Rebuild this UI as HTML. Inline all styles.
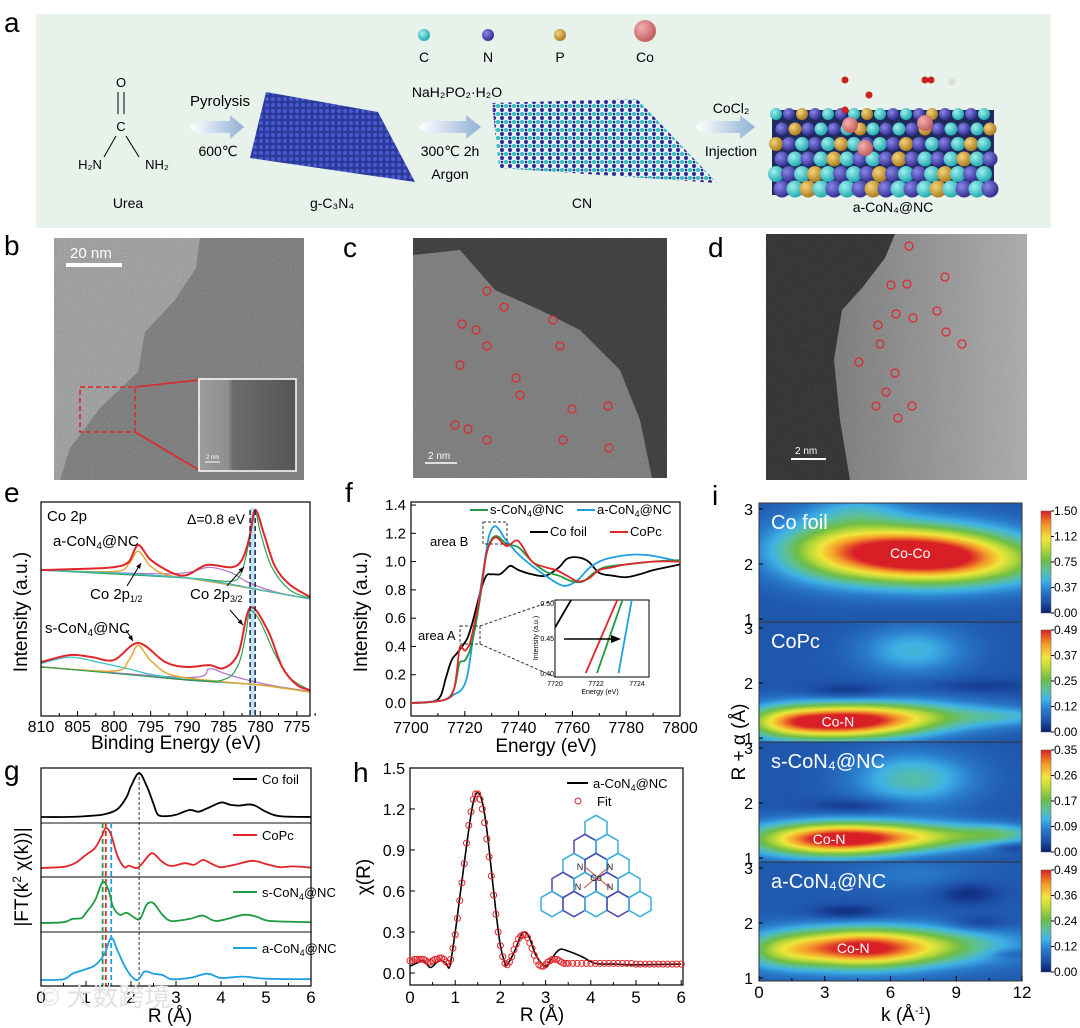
<!DOCTYPE html>
<html><head><meta charset="utf-8"><style>
html,body{margin:0;padding:0;background:#fff;}
#wrap{position:relative;width:1080px;height:1028px;overflow:hidden;font-family:"Liberation Sans","Noto Sans CJK SC",sans-serif;}
svg{position:absolute;left:0;top:0;}
canvas{position:absolute;}
text{font-family:"Liberation Sans","DejaVu Sans","Noto Sans CJK SC",sans-serif;}
</style></head><body>
<div id="wrap">
<svg id="main" width="1080" height="1028" viewBox="0 0 1080 1028">
<defs>
<filter id="grain" x="0" y="0" width="100%" height="100%"><feTurbulence type="fractalNoise" baseFrequency="0.85" numOctaves="2" seed="3"/><feColorMatrix type="matrix" values="0.33 0.33 0.33 0 0 0.33 0.33 0.33 0 0 0.33 0.33 0.33 0 0 0 0 0 0 1"/></filter>
<linearGradient id="arrowGrad" x1="0" x2="1"><stop offset="0" stop-color="#ffffff"/><stop offset="1" stop-color="#8fb0d6"/></linearGradient>
<radialGradient id="gC" cx="0.35" cy="0.35" r="0.7"><stop offset="0" stop-color="#9ff0ee"/><stop offset="1" stop-color="#1ba6ac"/></radialGradient>
<radialGradient id="gN" cx="0.35" cy="0.35" r="0.7"><stop offset="0" stop-color="#8a86e8"/><stop offset="1" stop-color="#2c2a8c"/></radialGradient>
<radialGradient id="gP" cx="0.35" cy="0.35" r="0.7"><stop offset="0" stop-color="#f5d37a"/><stop offset="1" stop-color="#a8781a"/></radialGradient>
<radialGradient id="gCo" cx="0.35" cy="0.35" r="0.7"><stop offset="0" stop-color="#f2b0b0"/><stop offset="1" stop-color="#c05a5a"/></radialGradient>
<pattern id="patG" width="6" height="6" patternUnits="userSpaceOnUse"><rect width="6" height="6" fill="#2a3a9a"/><circle cx="3" cy="3" r="2" fill="#4a5ad0"/></pattern>
<pattern id="patCN" width="8" height="8" patternUnits="userSpaceOnUse"><rect width="8" height="8" fill="#e6f2ea"/><circle cx="2" cy="2" r="2" fill="#2bbfc0"/><circle cx="6" cy="6" r="2" fill="#2c2a9c"/><circle cx="6" cy="2" r="1.4" fill="#3a3aa8"/></pattern>
<linearGradient id="dGrad" x1="0" x2="1"><stop offset="0" stop-color="#555"/><stop offset="1" stop-color="#a8a8a8"/></linearGradient>
<linearGradient id="insGrad" x1="0" x2="1"><stop offset="0" stop-color="#9c9c9c"/><stop offset="0.3" stop-color="#8f8f8f"/><stop offset="0.35" stop-color="#6c6c6c"/><stop offset="1" stop-color="#555"/></linearGradient>
</defs>
<rect x="0" y="0" width="1080" height="1028" fill="#fff"/>

<g>
<rect x="36" y="14" width="1015" height="214" fill="#e6f2ea"/>
<text x="4" y="32" font-size="28">a</text>
<g>
<circle cx="424" cy="35" r="6" fill="url(#gC)"/>
<circle cx="488" cy="35" r="6" fill="url(#gN)"/>
<circle cx="560" cy="35" r="6" fill="url(#gP)"/>
<circle cx="645" cy="31" r="11" fill="url(#gCo)"/>
<text x="424" y="62" font-size="14" text-anchor="middle">C</text>
<text x="488" y="62" font-size="14" text-anchor="middle">N</text>
<text x="560" y="62" font-size="14" text-anchor="middle">P</text>
<text x="645" y="62" font-size="14" text-anchor="middle">Co</text>
</g>
<g font-size="13">
<text x="121" y="87" text-anchor="middle">O</text>
<line x1="118" y1="92" x2="118" y2="114" stroke="#000"/>
<line x1="124" y1="92" x2="124" y2="114" stroke="#000"/>
<text x="121" y="131" text-anchor="middle">C</text>
<line x1="116" y1="136" x2="104" y2="157" stroke="#000"/>
<line x1="126" y1="136" x2="139" y2="157" stroke="#000"/>
<text x="90" y="169" text-anchor="middle">H₂N</text>
<text x="157" y="169" text-anchor="middle">NH₂</text>
<text x="128" y="208" text-anchor="middle" font-size="14">Urea</text>
</g>
<path d="M190,127 Q195,119 212,121 L230,121 L230,115 L244,127 L230,139 L230,133 L212,133 Q195,135 190,127Z" fill="url(#arrowGrad)"/>
<text x="220" y="106" font-size="15" text-anchor="middle">Pyrolysis</text>
<text x="218" y="156" font-size="14" text-anchor="middle">600℃</text>
<polygon points="266,92 378,112 415,182 250,158" fill="url(#patG)"/>
<text x="332" y="208" font-size="14" text-anchor="middle">g-C₃N₄</text>
<path d="M419,127 Q424,119 442,121 L466,121 L466,115 L481,127 L466,139 L466,133 L442,133 Q424,135 419,127Z" fill="url(#arrowGrad)"/>
<text x="457" y="97" font-size="14" text-anchor="middle">NaH₂PO₂·H₂O</text>
<text x="450" y="156" font-size="14" text-anchor="middle">300℃ 2h</text>
<text x="450" y="179" font-size="14" text-anchor="middle">Argon</text>
<polygon points="492,103 637,99 717,183 499,168" fill="url(#patCN)"/>
<text x="582" y="208" font-size="14" text-anchor="middle">CN</text>
<path d="M696,127 Q701,119 718,121 L740,121 L740,115 L755,127 L740,139 L740,133 L718,133 Q701,135 696,127Z" fill="url(#arrowGrad)"/>
<text x="731" y="113" font-size="14" text-anchor="middle">CoCl₂</text>
<text x="731" y="156" font-size="14" text-anchor="middle">Injection</text>
<g id="slab"></g>
<text x="893" y="212" font-size="14" text-anchor="middle">a-CoN₄@NC</text>
</g>

<g>
<text x="4" y="255" font-size="28">b</text>
<rect x="54" y="238" width="250" height="242" fill="#929292"/>
<polygon points="200,238 304,238 304,480 60,480 70,448 100,408 138,372 145,332 175,300 196,268" fill="#616161"/>
<rect x="54" y="238" width="250" height="242" filter="url(#grain)" opacity="0.35"/>
<rect x="66" y="263" width="56" height="4" fill="#fff"/>
<text x="70" y="258" font-size="15" fill="#fff">20 nm</text>
<rect x="80" y="387" width="55" height="45" fill="none" stroke="#e0262b" stroke-width="1.6" stroke-dasharray="5 3"/>
<line x1="135" y1="387" x2="199" y2="380" stroke="#e0262b" stroke-width="1.6"/>
<line x1="135" y1="432" x2="199" y2="470" stroke="#e0262b" stroke-width="1.6"/>
<rect x="199" y="379" width="97" height="92" fill="url(#insGrad)" stroke="#fff" stroke-width="1.5"/>
<line x1="205" y1="462" x2="220" y2="462" stroke="#fff"/>
<text x="206" y="459" font-size="6" fill="#fff">2 nm</text>
</g>

<g>
<text x="343" y="257" font-size="28">c</text>
<rect x="413" y="238" width="254" height="240" fill="#1a1a1a"/>
<polygon points="413,255 460,250 495,290 540,310 580,330 620,370 640,420 652,478 413,478" fill="#6c6c6c"/>
<rect x="413" y="238" width="254" height="240" filter="url(#grain)" opacity="0.25"/>
<g id="circlesC"></g>
<line x1="425" y1="463" x2="457" y2="463" stroke="#fff" stroke-width="1.5"/>
<text x="428" y="459" font-size="10" fill="#fff">2 nm</text>
</g>

<g>
<text x="708" y="257" font-size="28">d</text>
<rect x="766" y="234" width="261" height="246" fill="url(#dGrad)"/>
<polygon points="766,234 895,234 885,258 862,288 842,310 834,360 840,420 850,480 766,480" fill="#0c0c0c"/>
<rect x="766" y="234" width="261" height="246" filter="url(#grain)" opacity="0.25"/>
<g id="circlesD"></g>
<line x1="791" y1="459" x2="826" y2="459" stroke="#fff" stroke-width="2"/>
<text x="795" y="454" font-size="10" fill="#fff">2 nm</text>
</g>

<g id="chartE"></g>
<g id="chartF"></g>
<g id="chartG"></g>
<g id="chartH"></g>
<text x="40" y="1006" font-size="26" fill="#e2e2e2">© 大数跨境</text>
</svg>
<canvas id="cv0" width="263" height="119" style="left:759px;top:503px"></canvas>
<canvas id="cv1" width="263" height="120" style="left:759px;top:622px"></canvas>
<canvas id="cv2" width="263" height="120" style="left:759px;top:742px"></canvas>
<canvas id="cv3" width="263" height="119" style="left:759px;top:862px"></canvas>
<svg id="over" width="1080" height="1028" viewBox="0 0 1080 1028" style="pointer-events:none">
<defs><linearGradient id="cbGrad" x1="0" y1="1" x2="0" y2="0">
<stop offset="0" stop-color="#0a1f6e"/><stop offset="0.1" stop-color="#1d4fa6"/><stop offset="0.22" stop-color="#2a7ccb"/><stop offset="0.32" stop-color="#3fb2e6"/><stop offset="0.42" stop-color="#5cc09a"/><stop offset="0.52" stop-color="#6ebd45"/><stop offset="0.63" stop-color="#b8d83a"/><stop offset="0.73" stop-color="#f1e63a"/><stop offset="0.86" stop-color="#f49a2a"/><stop offset="1" stop-color="#d91f26"/></linearGradient></defs>
<g id="chartI"></g>
</svg>
</div>
<script>
const eTicks=[810,805,800,795,790,785,780,775];
const eTopRed=[[810,68.2],[804,68.8],[800,69.6],[798,72],[796.7,79.9],[795,73],[792,66.8],[790,65.9],[787.3,70.6],[784,69.5],[782.5,73],[781.5,83.2],[780.7,96.3],[779.5,85],[778,70],[776,61.5],[773.2,55.6]];
const eTopBase=[[810,68.2],[800,66.8],[790,64.5],[785,62.1],[780,58.9],[773.2,54.7]];
const eTopOrange=[[810,68.2],[800,67.5],[798,71],[796.7,77],[795,70],[793,66],[790,64.5],[780,58.9],[773.2,54.7]];
const eTopGreen=[[810,68.2],[790,64.5],[784,63],[782.5,68],[781.5,82],[780.7,95],[780,86],[778.5,70],[776,59],[773.2,55]];
const eTopPurple=[[810,68.2],[795,66.5],[790,67],[787,69.5],[784,67],[782,63],[779,59],[776,56.5],[773.2,54.7]];
const eBotRed=[[810,25.2],[806,28.5],[803,27.5],[800,26.2],[796.7,34.1],[793,25.2],[790,22.9],[787,23.8],[785,22.4],[783,29.4],[781.4,50.5],[779,40.2],[777,22.9],[775,14.5],[773.2,12.1]];
const eBotBase=[[810,22.9],[800,20.1],[790,16.8],[780,14.5],[773.2,11.2]];
const eBotOrange=[[810,23],[800,21],[798,26],[796.7,33],[795,26],[792,19],[785,16],[780,14.5],[773.2,11.2]];
const eBotCyan=[[810,24.5],[806,27.5],[802,25],[798,22],[795,19.5],[790,17],[780,14.5],[773.2,11.2]];
const eBotGreen=[[810,23],[790,17],[785,17],[783,24],[782,38],[781.4,49],[780,44],[778,29],[776,18],[773.2,12]];
const eBotPurple=[[810,23],[790,18],[787,22],[785,20],[782,17],[778,14],[773.2,11.5]];
const eDashed=[781.4,780.7];

const fXTicks=[7700,7720,7740,7760,7780,7800];
const fYTicks=[0,0.2,0.4,0.6,0.8,1.0,1.2,1.4];
const fCoFoil=[[7700,0],[7708,0.01],[7711,0.05],[7713,0.18],[7715,0.3],[7717,0.35],[7719,0.4],[7721,0.46],[7723,0.58],[7726,0.8],[7728,0.9],[7730,0.91],[7733,0.91],[7735,0.94],[7737,0.97],[7740,0.94],[7745,0.91],[7750,0.9],[7755,0.96],[7758,1.02],[7762,1.03],[7766,1.0],[7770,0.92],[7775,0.9],[7780,0.89],[7785,0.91],[7790,0.94],[7795,0.96],[7800,0.98]];
const fCoPc=[[7700,0],[7712,0.02],[7716,0.1],[7718,0.38],[7719,0.39],[7720,0.37],[7721,0.39],[7722,0.43],[7724,0.6],[7726,0.8],[7728,1.05],[7730,1.15],[7732,1.17],[7734,1.13],[7736,1.11],[7739,1.15],[7741,1.12],[7745,1.0],[7750,0.96],[7754,0.94],[7758,0.9],[7762,0.86],[7766,0.88],[7770,0.94],[7775,0.96],[7780,0.98],[7790,1.0],[7800,1.0]];
const fSCoN4=[[7700,0],[7712,0.02],[7716,0.1],[7718,0.28],[7720,0.3],[7722,0.38],[7724,0.55],[7726,0.78],[7728,1.05],[7730,1.16],[7732,1.18],[7734,1.15],[7736,1.12],[7740,1.1],[7745,1.0],[7750,0.93],[7755,0.9],[7760,0.86],[7764,0.86],[7768,0.92],[7772,0.96],[7780,0.98],[7790,1.0],[7800,1.01]];
const fACoN4=[[7700,0],[7712,0.02],[7716,0.06],[7719,0.1],[7721,0.2],[7723,0.45],[7725,0.7],[7727,0.95],[7729,1.18],[7731,1.25],[7733,1.22],[7735,1.16],[7740,1.05],[7745,0.97],[7750,0.9],[7755,0.84],[7758,0.83],[7762,0.87],[7766,0.95],[7770,1.0],[7775,1.03],[7783,1.05],[7790,1.04],[7800,1.0]];
const fInsetXTicks=[7720,7722,7724];
const fInsetYTicks=[0.40,0.45,0.50];
const fInsetBlack=[[7720,0.465],[7720.8,0.505]];
const fInsetRed=[[7721.5,0.4],[7723.05,0.505]];
const fInsetGreen=[[7722.05,0.4],[7723.3,0.505]];
const fInsetBlue=[[7723.1,0.4],[7723.75,0.505]];

const gTicks=[0,1,2,3,4,5,6];
const gCoFoil=[[0,0],[0.5,0.0],[1.0,0.02],[1.4,0.06],[1.7,0.18],[1.9,0.45],[2.0,0.7],[2.18,1.0],[2.35,0.7],[2.5,0.3],[2.6,0.05],[2.8,0.02],[3.0,0.05],[3.3,0.16],[3.5,0.12],[3.7,0.2],[4.0,0.33],[4.2,0.28],[4.4,0.26],[4.7,0.28],[5.0,0.12],[5.3,0.02],[6,0]];
const gCoPc=[[0,0],[0.4,0.02],[0.6,0.05],[0.8,0.15],[1.0,0.33],[1.2,0.5],[1.35,0.8],[1.44,1.0],[1.55,0.85],[1.7,0.3],[1.85,0.02],[1.95,0.06],[2.1,0],[2.2,0.05],[2.4,0.32],[2.5,0.36],[2.7,0.15],[2.9,0.05],[3.2,0.12],[3.4,0.08],[3.6,0.2],[3.8,0.1],[4.0,0.02],[4.3,0.08],[4.7,0.18],[5.0,0.1],[5.3,0.02],[5.6,0.04],[6,0.01]];
const gSCoN4=[[0,0],[0.5,0.02],[0.7,0.1],[0.9,0.12],[1.0,0.25],[1.2,0.55],[1.37,1.0],[1.5,0.8],[1.6,0.4],[1.75,0.2],[1.9,0.25],[2.05,0.15],[2.2,0.1],[2.35,0.45],[2.5,0.48],[2.7,0.2],[2.9,0.05],[3.3,0.1],[3.6,0.18],[3.9,0.05],[4.5,0.2],[4.8,0.15],[5.1,0.05],[6,0.02]];
const gACoN4=[[0,0],[0.5,0.02],[0.7,0.15],[1.0,0.26],[1.2,0.35],[1.4,0.6],[1.56,1.0],[1.7,0.7],[1.85,0.35],[2.0,0.1],[2.15,0.0],[2.3,0.2],[2.5,0.15],[2.7,0.12],[2.9,0.02],[3.3,0.05],[3.7,0.15],[4.0,0.05],[4.5,0.08],[5.0,0.03],[6,0.02]];
const gPeakLines=[1.37,1.44,1.56];
const gFoilLine=[2.18];

const hXTicks=[0,1,2,3,4,5,6];
const hYTicks=[0,0.3,0.6,0.9,1.2,1.5];
const hData=[[0,0.05],[0.2,0.08],[0.3,0.09],[0.45,0.04],[0.6,0.08],[0.7,0.09],[0.8,0.07],[0.88,0.05],[1.0,0.3],[1.1,0.55],[1.2,0.8],[1.3,1.05],[1.4,1.25],[1.5,1.32],[1.6,1.25],[1.7,1.05],[1.8,0.75],[1.9,0.45],[2.0,0.2],[2.1,0.07],[2.15,0.06],[2.3,0.15],[2.45,0.27],[2.55,0.3],[2.65,0.25],[2.8,0.12],[3.0,0.05],[3.1,0.09],[3.3,0.17],[3.5,0.16],[3.8,0.12],[4.1,0.07],[4.5,0.065],[5,0.06],[6,0.065]];
const hFitR=[0,0.05,0.1,0.15,0.2,0.25,0.3,0.35,0.4,0.45,0.5,0.55,0.6,0.65,0.7,0.75,0.8,0.85,0.9,0.95,1.0,1.05,1.1,1.15,1.2,1.25,1.3,1.35,1.4,1.45,1.5,1.55,1.6,1.65,1.7,1.75,1.8,1.85,1.9,1.95,2.0,2.05,2.1,2.15,2.2,2.25,2.3,2.35,2.4,2.45,2.5,2.55,2.6,2.65,2.7,2.75,2.8,2.85,2.9,2.95,3.0,3.05,3.1,3.15,3.2,3.25,3.3,3.35,3.4,3.45,3.5,3.6,3.7,3.8,3.9,4.0,4.1,4.2,4.3,4.4,4.5,4.6,4.7,4.8,4.9,5.0,5.1,5.2,5.3,5.4,5.5,5.6,5.7,5.8,5.9,6.0];
const hFitV=[0.09,0.09,0.1,0.1,0.1,0.1,0.1,0.09,0.08,0.08,0.09,0.1,0.1,0.11,0.11,0.1,0.08,0.07,0.1,0.18,0.28,0.4,0.53,0.66,0.8,0.95,1.08,1.18,1.27,1.31,1.31,1.27,1.2,1.1,0.98,0.85,0.71,0.57,0.43,0.3,0.2,0.12,0.07,0.06,0.08,0.12,0.17,0.21,0.25,0.27,0.28,0.28,0.26,0.22,0.18,0.13,0.09,0.06,0.05,0.05,0.06,0.08,0.09,0.1,0.1,0.1,0.09,0.08,0.07,0.07,0.07,0.07,0.07,0.07,0.07,0.07,0.07,0.07,0.07,0.07,0.07,0.07,0.07,0.07,0.07,0.065,0.065,0.065,0.065,0.065,0.065,0.065,0.065,0.065,0.065,0.065];

const iXTicks=[0,3,6,9,12];
const iYTicks=[1,2,3];
const iNames=['Co foil','CoPc','s-CoN₄@NC','a-CoN₄@NC'];
const iBondLabels=['Co-Co','Co-N','Co-N','Co-N'];
const iBondK=[6.9,3.6,3.2,4.3];
const iBondR=[2.2,1.3,1.35,1.55];
const iBase=[0.12,0.12,0.12,0.13];
const blobsFoil=[[6.8,2.2,2.9,0.36,0.88],[10,2.05,2.8,0.32,0.35],[3.2,2.3,2.0,0.4,0.28],[4.5,3.0,1.5,0.22,0.14]];
const blobsCoPc=[[3.5,1.3,2.5,0.22,0.88],[7.2,1.4,2.6,0.2,0.32],[1.2,1.3,1.2,0.2,0.2],[7,2.6,1.7,0.3,0.22],[4,1.85,1.3,0.1,-0.1],[10,1.95,2,0.1,-0.06],[11.5,1.4,1.5,0.12,0.15]];
const blobsS=[[3.3,1.35,2.5,0.21,0.88],[7.5,1.4,2.6,0.18,0.38],[11,1.45,1.3,0.12,0.2],[7,2.45,1.9,0.33,0.28],[4.5,1.95,1.5,0.1,-0.1],[11.5,1.2,0.6,0.06,-0.1]];
const blobsA=[[4.5,1.55,2.6,0.25,0.88],[9,1.6,2.6,0.24,0.22],[1,1.5,1.2,0.22,0.22],[4,2.2,1.2,0.1,-0.12],[9.5,2.55,1,0.15,-0.1],[10,2.0,1,0.1,-0.1],[11.5,1.45,0.8,0.06,-0.08],[7,2.9,2,0.2,0.08]];
const cbFoil=['1.50','1.12','0.75','0.37','0.00'];
const cbCoPc=['0.49','0.37','0.25','0.12','0.00'];
const cbS=['0.35','0.26','0.17','0.09','0.00'];
const cbA=['0.49','0.36','0.24','0.12','0.00'];

const atomsC=[[487,291],[504,307],[462,324],[476,330],[487,346],[460,365],[516,378],[560,346],[455,425],[468,429],[487,440],[572,409],[608,406],[563,440],[609,448],[553,320],[520,395]];
const atomsD=[[909,246],[945,277],[891,285],[907,284],[896,314],[913,318],[937,311],[878,325],[946,332],[880,344],[962,344],[859,362],[895,373],[886,392],[876,406],[912,406],[898,418]];

const NS='http://www.w3.org/2000/svg';
function mk(tag,attrs,parent){const e=document.createElementNS(NS,tag);for(const k in attrs)e.setAttribute(k,attrs[k]);parent.appendChild(e);return e;}
function smooth(p){let d='M'+p[0][0].toFixed(1)+','+p[0][1].toFixed(1);for(let i=0;i<p.length-1;i++){const p0=p[i-1]||p[i],p1=p[i],p2=p[i+1],p3=p[i+2]||p2;const c1x=p1[0]+(p2[0]-p0[0])/6,c1y=p1[1]+(p2[1]-p0[1])/6,c2x=p2[0]-(p3[0]-p1[0])/6,c2y=p2[1]-(p3[1]-p1[1])/6;d+=' C'+c1x.toFixed(1)+','+c1y.toFixed(1)+' '+c2x.toFixed(1)+','+c2y.toFixed(1)+' '+p2[0].toFixed(1)+','+p2[1].toFixed(1);}return d;}
function txt(parent,x,y,s,size,anchor,fill){const t=mk('text',{x:x,y:y,'font-size':size,'text-anchor':anchor||'start',fill:fill||'#000'},parent);t.textContent=s;return t;}

(function(){const g=document.getElementById('slab');
mk('rect',{x:772,y:110,width:222,height:85,fill:'#1d2a5a'},g);
for(let r=0;r<6;r++){for(let c=0;c<17;c++){const x=776+c*13+(r%2)*6,y=114+r*15;const col=((c+r)%5===2)?'url(#gP)':((c+r)%2?'url(#gN)':'url(#gC)');
const a=mk('circle',{cx:x,cy:y,r:6+r*0.5,fill:col},g);

}}
const coPos=[[850,125],[925,123],[865,148]];
coPos.forEach(p=>{const a=mk('circle',{cx:p[0],cy:p[1],r:8,fill:'url(#gCo)'},g);

});
const mol=[[845,80,'#d02020'],[851,76,'#eee'],[925,80,'#d02020'],[931,80,'#d02020'],[952,82,'#ddd'],[869,95,'#d02020'],[858,103,'#eee'],[845,110,'#d02020']];
mol.forEach(p=>{const a=mk('circle',{cx:p[0],cy:p[1],r:3.5,fill:p[2]},g);

});})();

[['circlesC',atomsC],['circlesD',atomsD]].forEach(([id,arr])=>{const g=document.getElementById(id);arr.forEach(p=>{const c=mk('circle',{cx:p[0],cy:p[1],r:4,fill:'none',stroke:'#e0262b','stroke-width':1.2},g);

});});

(function(){const g=document.getElementById('chartE');
const L=41,R=310,T=502,B=716;
const x=v=>L+(810-v)*7.31, y=v=>B-v*2.14;
txt(g,4,502,'e',28);
const band=mk('rect',{x:x(eDashed[0]),y:T+6,width:x(eDashed[1])-x(eDashed[0]),height:B-T-8,fill:'#bfe3f5'},g);


const series=[[eTopBase,'#2a2a2a',1.2,'top-baseline'],[eTopPurple,'#b070c8',1.2,'top-satellite-fit'],[eTopOrange,'#e3a52a',1.4,'top-2p12-fit'],[eTopGreen,'#2ea055',1.2,'top-2p32-fit'],[eTopBase,'#3cc0c8',1.2,'top-background-fit'],[eTopRed,'#e0262b',2,'top-envelope'],
[eBotBase,'#2a2a2a',1.2,'bottom-baseline'],[eBotPurple,'#b070c8',1.2,'bottom-satellite-fit'],[eBotCyan,'#3cc0c8',1.3,'bottom-satellite2-fit'],[eBotOrange,'#e3a52a',1.4,'bottom-2p12-fit'],[eBotGreen,'#2ea055',1.2,'bottom-2p32-fit'],[eBotRed,'#e0262b',2,'bottom-envelope']];
series.forEach(s=>{const p=mk('path',{d:smooth(s[0].map(q=>[x(q[0]),y(q[1])])),fill:'none',stroke:s[1],'stroke-width':s[2]},g);

});
eDashed.forEach(v=>{const l=mk('line',{x1:x(v),x2:x(v),y1:T+8,y2:B,stroke:'#1a2a4a','stroke-width':1.5,'stroke-dasharray':'5 3'},g);

});
const box=mk('rect',{x:L,y:T,width:R-L,height:B-T,fill:'none',stroke:'#000','stroke-width':1.2},g);


eTicks.forEach(v=>{mk('line',{x1:x(v),x2:x(v),y1:B,y2:B-5,stroke:'#000'},g);mk('line',{x1:x(v-2.5),x2:x(v-2.5),y1:B,y2:B-3,stroke:'#000'},g);
const t=txt(g,x(v),B+16,String(v),16,'middle');
});
txt(g,176,B+33,'Binding Energy (eV)',19,'middle');
const yt=txt(g,0,0,'Intensity (a.u.)',19,'middle');yt.setAttribute('transform','translate(27,612) rotate(-90)');

txt(g,47,521,'Co 2p',15);
const d=txt(g,187,524,'Δ=0.8 eV',14);
const a1=txt(g,53,546,'',15);a1.innerHTML='a-CoN<tspan font-size="10" dy="3">4</tspan><tspan dy="-3">@NC</tspan>';
const a2=txt(g,45,633,'',15);a2.innerHTML='s-CoN<tspan font-size="10" dy="3">4</tspan><tspan dy="-3">@NC</tspan>';
const c1=txt(g,90,599,'',15);c1.innerHTML='Co 2p<tspan font-size="9" dy="3">1/2</tspan>';
const c2=txt(g,190,599,'',15);c2.innerHTML='Co 2p<tspan font-size="9" dy="3">3/2</tspan>';
const arrs=[[127,586,141,563],[227,586,244,567],[126,630,133,641],[230,610,243,625]];
arrs.forEach(a=>{const l=mk('line',{x1:a[0],y1:a[1],x2:a[2],y2:a[3],stroke:'#000','stroke-width':1},g);

const ang=Math.atan2(a[3]-a[1],a[2]-a[0]);const h=mk('polygon',{points:[a[2],a[3],a[2]-6*Math.cos(ang-0.4),a[3]-6*Math.sin(ang-0.4),a[2]-6*Math.cos(ang+0.4),a[3]-6*Math.sin(ang+0.4)].join(','),fill:'#000'},g);
});
})();

(function(){const g=document.getElementById('chartF');
const L=411,R=680,T=502,B=716;
const x=v=>L+(v-7700)*2.69,y=v=>703-v*141.4;
txt(g,345,502,'f',28);
const box=mk('rect',{x:L,y:T,width:R-L,height:B-T,fill:'none',stroke:'#000','stroke-width':1.2},g);

fXTicks.forEach(v=>{mk('line',{x1:x(v),x2:x(v),y1:B,y2:B-5,stroke:'#000'},g);if(v<7800)mk('line',{x1:x(v+10),x2:x(v+10),y1:B,y2:B-3,stroke:'#000'},g);
const t=txt(g,x(v),B+17,String(v),16,'middle');
});
fYTicks.forEach(v=>{mk('line',{x1:L,x2:L+5,y1:y(v),y2:y(v),stroke:'#000'},g);
const t=txt(g,L-5,y(v)+5,v.toFixed(1),15,'end');
});
txt(g,546,B+36,'Energy (eV)',19,'middle');
const yt=txt(g,0,0,'Intensity (a.u.)',19,'middle');yt.setAttribute('transform','translate(367,612) rotate(-90)');

const ser=[[fCoFoil,'#000','co-foil-line'],[fACoN4,'#1ea0e0','a-con4-line'],[fSCoN4,'#1e9a40','s-con4-line'],[fCoPc,'#e0262b','copc-line']];
ser.forEach(s=>{const p=mk('path',{d:smooth(s[0].map(q=>[x(q[0]),y(q[1])])),fill:'none',stroke:s[1],'stroke-width':1.8},g);

});
const bb=mk('rect',{x:483,y:522,width:24,height:22,fill:'none',stroke:'#333','stroke-dasharray':'3 2'},g);
const ba=mk('rect',{x:460,y:626,width:20,height:18,fill:'none',stroke:'#333','stroke-dasharray':'3 2'},g);
txt(g,430,546,'area B',13);
txt(g,418,640,'area A',13);
mk('line',{x1:480,y1:626,x2:555,y2:600,stroke:'#333','stroke-dasharray':'3 2'},g);
mk('line',{x1:480,y1:644,x2:555,y2:677,stroke:'#333','stroke-dasharray':'3 2'},g);
const leg=[[470,510,'#1e9a40','s-CoN','4','@NC'],[577,510,'#1ea0e0','a-CoN','4','@NC'],[530,532,'#000','Co foil','',''],[610,532,'#e0262b','CoPc','','']];
leg.forEach(l=>{const ln=mk('line',{x1:l[0],x2:l[0]+18,y1:l[1],y2:l[1],stroke:l[2],'stroke-width':2},g);

const t=txt(g,l[0]+20,l[1]+4,'',13);t.innerHTML=l[3]+(l[4]?'<tspan font-size="9" dy="3">'+l[4]+'</tspan><tspan dy="-3">'+l[5]+'</tspan>':'');
});
const IL=555,IR=649,IT=600,IB=677;
const xi=v=>IL+(v-7720)*20.5,yi=v=>673-(v-0.4)*700;
const ib=mk('rect',{x:IL,y:IT,width:IR-IL,height:IB-IT,fill:'#fff',stroke:'#000'},g);
const cp=mk('clipPath',{id:'insClip'},g);mk('rect',{x:IL,y:IT,width:IR-IL,height:IB-IT},cp);
[[fInsetBlack,'#000'],[fInsetRed,'#e0262b'],[fInsetGreen,'#1e9a40'],[fInsetBlue,'#1ea0e0']].forEach(s=>{const l=mk('line',{x1:xi(s[0][0][0]),y1:yi(s[0][0][1]),x2:xi(s[0][1][0]),y2:yi(s[0][1][1]),stroke:s[1],'stroke-width':1.8,'clip-path':'url(#insClip)'},g);
});
fInsetXTicks.forEach(v=>{const t=txt(g,xi(v),IB+9,String(v),7,'middle');});
fInsetYTicks.forEach(v=>{const t=txt(g,IL-1,yi(v)+3,v.toFixed(2),7,'end');});
txt(g,600,694,'Energy (eV)',7,'middle');
const iy=txt(g,0,0,'Intensity (a.u.)',7,'middle');iy.setAttribute('transform','translate(538,638) rotate(-90)');
mk('line',{x1:564,y1:639,x2:613,y2:639,stroke:'#000','stroke-width':1.5},g);
mk('polygon',{points:'621,639 611,635 611,643',fill:'#000'},g);
})();

(function(){const g=document.getElementById('chartG');
const L=41,R=311,T=768,B=986;
const x=v=>L+v*45;
txt(g,4,780,'g',28);
const panels=[[gCoFoil,817,44,'#000','Co foil','','',779],[gCoPc,868,40,'#e0262b','CoPc','','',835],[gSCoN4,923,41,'#1e9a40','s-CoN','4','@NC',892],[gACoN4,980,42,'#1ea0e0','a-CoN','4','@NC',948]];
[823,877,932].forEach((yy,i)=>{const l=mk('line',{x1:L,x2:R,y1:yy,y2:yy,stroke:i===1?'#000':'#888','stroke-width':i===1?1:2},g);
});
const d1=mk('line',{x1:x(gFoilLine[0]),x2:x(gFoilLine[0]),y1:T+4,y2:B,stroke:'#000','stroke-dasharray':'3 2','stroke-width':0.8},g);

const cols=['#1e9a40','#e0262b','#1ea0e0'];
gPeakLines.forEach((v,i)=>{const l=mk('line',{x1:x(v),x2:x(v),y1:823,y2:B,stroke:cols[i],'stroke-dasharray':'5 3','stroke-width':1.8},g);
});
panels.forEach(p=>{const path=mk('path',{d:smooth(p[0].map(q=>[x(q[0]),p[1]-q[1]*p[2]])),fill:'none',stroke:p[3],'stroke-width':1.8},g);


const ln=mk('line',{x1:233,x2:257,y1:p[7],y2:p[7],stroke:p[3],'stroke-width':2},g);

const t=txt(g,262,p[7]+5,'',13);t.innerHTML=p[4]+(p[5]?'<tspan font-size="9" dy="3">'+p[5]+'</tspan><tspan dy="-3">'+p[6]+'</tspan>':'');
});
const box=mk('rect',{x:L,y:T,width:R-L,height:B-T,fill:'none',stroke:'#000','stroke-width':1.2},g);

gTicks.forEach(v=>{mk('line',{x1:x(v),x2:x(v),y1:B,y2:B-5,stroke:'#000'},g);if(v<6)mk('line',{x1:x(v+0.5),x2:x(v+0.5),y1:B,y2:B-3,stroke:'#000'},g);
const t=txt(g,x(v),B+17,String(v),17,'middle');
});
txt(g,170,1022,'R (Å)',19,'middle');
const yt=txt(g,0,0,'',19,'middle');yt.innerHTML='|FT(k<tspan font-size="12" dy="-7">2</tspan><tspan dy="7"> χ(k))|</tspan>';yt.setAttribute('transform','translate(28,877) rotate(-90)');

})();

(function(){const g=document.getElementById('chartH');
const L=410,R=683,T=768,B=985;
const x=v=>L+v*45.2,y=v=>973-v*136.7;
txt(g,353,782,'h',28);
const box=mk('rect',{x:L,y:T,width:R-L,height:B-T,fill:'none',stroke:'#000','stroke-width':1.2},g);

hXTicks.forEach(v=>{mk('line',{x1:x(v),x2:x(v),y1:B,y2:B-5,stroke:'#000'},g);if(v<6)mk('line',{x1:x(v+0.5),x2:x(v+0.5),y1:B,y2:B-3,stroke:'#000'},g);
const t=txt(g,x(v),B+18,String(v),17,'middle');
});
hYTicks.forEach(v=>{mk('line',{x1:L,x2:L+5,y1:y(v),y2:y(v),stroke:'#000'},g);
const t=txt(g,L-5,y(v)+6,v.toFixed(1),16,'end');
});
txt(g,542,1021,'R (Å)',19,'middle');
const yt=txt(g,0,0,'χ(R)',19,'middle');yt.setAttribute('transform','translate(370,877) rotate(-90)');

const p=mk('path',{d:smooth(hData.map(q=>[x(q[0]),y(q[1])])),fill:'none',stroke:'#000','stroke-width':1.6},g);


hFitR.forEach((r,i)=>{const c=mk('circle',{cx:x(r),cy:y(hFitV[i]),r:3,fill:'none',stroke:'#e0262b','stroke-width':1},g);

});
const ln=mk('line',{x1:567,x2:588,y1:783,y2:783,stroke:'#000','stroke-width':2},g);
const t1=txt(g,593,788,'',13);t1.innerHTML='a-CoN<tspan font-size="9" dy="3">4</tspan><tspan dy="-3">@NC</tspan>';
const lc=mk('circle',{cx:578,cy:801,r:3,fill:'none',stroke:'#e0262b'},g);
txt(g,597,806,'Fit',13);
const mg=mk('g',{},g);
const hw=22,rr=12.7;
for(let row=0;row<5;row++){for(let c=0;c<=row;c++){const cx=596+(c-row/2)*hw,cy=828+row*19;let pts=[];for(let k=0;k<6;k++){const a=Math.PI/6+k*Math.PI/3;pts.push((cx+rr*Math.cos(a)).toFixed(1)+','+(cy+rr*Math.sin(a)).toFixed(1));}
const hx=mk('polygon',{points:pts.join(' '),fill:'none',stroke:(row+c)%2?'#4a4ab0':'#3ab0d8','stroke-width':1.5},mg);
}}
mk('line',{x1:584,y1:866,x2:610,y2:888,stroke:'#c87060','stroke-width':1.2},mg);mk('line',{x1:610,y1:866,x2:584,y2:888,stroke:'#c87060','stroke-width':1.2},mg);
[['N',580,870],['N',610,870],['N',578,890],['N',610,890],['Co',596,881]].forEach(a=>{const t=txt(mg,a[1],a[2],a[0],9,'middle','#222');});
})();

(function(){const g=document.getElementById('chartI');
const L=759,R=1022;const tops=[503,622,742,862],bots=[622,742,862,981];
const x=v=>L+v*21.92;
const yI=(v,i)=>tops[i]+116-(v-1)*55;
const blobSets=[blobsFoil,blobsCoPc,blobsS,blobsA];const cbs=[cbFoil,cbCoPc,cbS,cbA];
const stops=[[0,[10,31,110]],[0.1,[29,79,166]],[0.22,[42,124,203]],[0.32,[63,178,230]],[0.42,[92,192,154]],[0.52,[110,189,69]],[0.63,[184,216,58]],[0.73,[241,230,58]],[0.86,[244,154,42]],[1,[217,31,38]]];
function cmap(v){v=Math.max(0,Math.min(1,v));for(let i=1;i<stops.length;i++){if(v<=stops[i][0]){const a=stops[i-1],b=stops[i],t=(v-a[0])/(b[0]-a[0]);return a[1].map((c,j)=>Math.round(c+(b[1][j]-c)*t));}}return stops[stops.length-1][1];}
for(let i=0;i<4;i++){const cv=document.getElementById('cv'+i);const ctx=cv.getContext('2d');const W=cv.width,H=cv.height;const img=ctx.createImageData(W,H);
for(let py=0;py<H;py++){const Rv=1+(116-py)/55;for(let px=0;px<W;px++){const k=px/W*12;let v=iBase[i];blobSets[i].forEach(b=>{v+=b[4]*Math.exp(-0.5*(((k-b[0])/b[2])**2+((Rv-b[1])/b[3])**2));});
const c=cmap(v);const o=(py*W+px)*4;img.data[o]=c[0];img.data[o+1]=c[1];img.data[o+2]=c[2];img.data[o+3]=255;}}
ctx.putImageData(img,0,0);
const fr=mk('rect',{x:L,y:tops[i],width:R-L,height:bots[i]-tops[i],fill:'none',stroke:'#333','stroke-width':1},g);

const nm=txt(g,L+12,tops[i]+26,iNames[i],20,'start','#fff');

const bl=txt(g,x(iBondK[i]),yI(iBondR[i],i)+5,iBondLabels[i],14,'middle','#fff');

iYTicks.forEach(v=>{mk('line',{x1:L,x2:L+4,y1:yI(v,i),y2:yI(v,i),stroke:'#000'},g);
const t=txt(g,L-6,yI(v,i)+6,String(v),16,'end');
});
const cbT=tops[i]+8,cbB=tops[i]+110;
const cb=mk('rect',{x:1041,y:cbT,width:10,height:cbB-cbT,fill:'url(#cbGrad)',stroke:'#555','stroke-width':0.5},g);

cbs[i].forEach((s,j)=>{const yy=cbT+j*(cbB-cbT)/4;mk('line',{x1:1051,x2:1054,y1:yy,y2:yy,stroke:'#000'},g);
const t=txt(g,1054,yy+4,s,12,'start');
});}
iXTicks.forEach(v=>{mk('line',{x1:x(v),x2:x(v),y1:981,y2:976,stroke:'#000'},g);if(v<12)mk('line',{x1:x(v+1.5),x2:x(v+1.5),y1:981,y2:978,stroke:'#000'},g);
const t=txt(g,x(v),998,String(v),17,'middle');
});
const xt=txt(g,906,1021,'',19,'middle');xt.innerHTML='k (Å<tspan font-size="11" dy="-7">-1</tspan><tspan dy="7">)</tspan>';
const yt=txt(g,0,0,'R + α (Å)',19,'middle');yt.setAttribute('transform','translate(745,742) rotate(-90)');

txt(g,712,505,'i',28);
})();
</script>
</body></html>
